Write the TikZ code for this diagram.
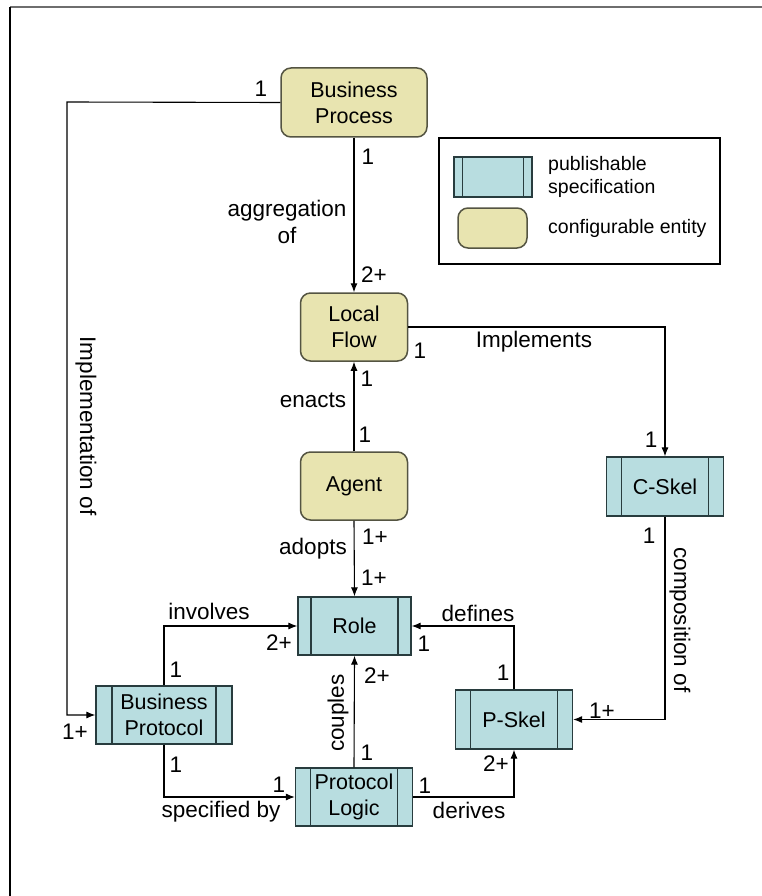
\documentclass[tikz,border=0pt]{standalone}
\usepackage{fontspec}
\setmainfont{Liberation Sans}
\usetikzlibrary{arrows.meta, positioning}
\definecolor{pubfill}{RGB}{184,221,224}
\definecolor{publine}{RGB}{40,60,62}
\definecolor{cfgfill}{RGB}{232,228,176}
\definecolor{cfgline}{RGB}{84,84,66}
\definecolor{framegray}{RGB}{110,110,110}

\begin{document}
\begin{tikzpicture}[x=1pt, y=-1pt,
                every node/.style={font=\fontsize{21.5}{26}\selectfont},
                cfg/.style={rectangle, rounded corners=10pt, draw=cfgline, fill=cfgfill, line width=1.5pt, align=center, inner sep=0pt},
                pub/.style={rectangle, draw=publine, fill=pubfill, line width=1.2pt, align=center, inner sep=0pt, minimum height=58pt,
                    path picture={\draw[publine, line width=1.2pt]
                        ([xshift=#1]path picture bounding box.north west) -- ([xshift=#1]path picture bounding box.south west)
                        ([xshift=-#1]path picture bounding box.north east) -- ([xshift=-#1]path picture bounding box.south east);}},
                pub/.default=14pt,
                lnk/.style={-{Latex[length=9pt,width=7pt]}, line width=1.1pt},
                lbl/.style={inner sep=1pt, font=\fontsize{22.5}{27}\selectfont},
                keytext/.style={anchor=west, align=left, inner sep=0pt, font=\fontsize{19.5}{23}\selectfont}
            ]
                \useasboundingbox (0,0) rectangle (762,896);
                % frame edges of the page
                \draw[framegray, line width=2pt] (10,7) -- (762,7);
                \draw[line width=2pt] (10,7) -- (10,896);

                % legend
                \node[draw, line width=1.2pt, minimum width=281pt, minimum height=126pt] (legend) at (579.5,201) {};
                \node[pub=8.5pt, minimum width=78pt, minimum height=40pt] (keypub) at (493,177) {};
                \node[cfg, minimum width=69pt, minimum height=40pt] (keycfg) at (492.5,228) {};
                \node[keytext] (keypubtxt) at (548,176.5) {publishable\\specification};
                \node[keytext] (keycfgtxt) at (548,228) {configurable entity};

                % entities
                \node[cfg, minimum width=146pt, minimum height=69pt] (bp) at (354,102.5) {Business\\Process};
                \node[cfg, minimum width=107pt, minimum height=68pt] (lf) at (354,327) {Local\\Flow};
                \node[cfg, minimum width=107pt, minimum height=68pt] (ag) at (354,486) {Agent};
                \node[pub=13pt, minimum width=113pt] (role) at (354.5,626) {Role};
                \node[pub=16pt, minimum width=136pt] (bprot) at (164,715) {Business\\Protocol};
                \node[pub=15pt, minimum width=117pt] (pl) at (354,797) {Protocol\\Logic};
                \node[pub=15pt, minimum width=117pt, minimum height=59pt] (ps) at (514,719.5) {P-Skel};
                \node[pub=15pt, minimum width=117pt, minimum height=59pt] (cs) at (665,486.5) {C-Skel};

                % connectors
                \coordinate (implturn) at (67,102);
                \draw[lnk] (bp.west) -- (implturn) |- (bprot.west);
                \draw[lnk] (bp.south) -- (lf.north);
                \draw[lnk] (lf.east) -| (cs.north);
                \draw[lnk] (ag.north) -- (lf.south);
                \draw[lnk] (ag.south) -- (role.north);
                \draw[lnk] (bprot.north) |- (role.west);
                \draw[lnk] (bprot.south) |- (pl.west);
                \draw[lnk] (pl.north) -- (role.south);
                \draw[lnk] (pl.east) -| (ps.south);
                \draw[lnk] (ps.north) |- (role.east);
                \draw[lnk] (cs.south) |- (ps.east);

                % relation names
                \node[lbl, align=center] (aggr) at (287,221.5) {aggregation\\of};
                \node[lbl] (impls) at (534,342) {Implements};
                \node[lbl] (enacts) at (313,400) {enacts};
                \node[lbl] (adopts) at (313,549) {adopts};
                \node[lbl, rotate=-90] (implof) at (86,426) {Implementation of};
                \node[lbl, rotate=-90] (compof) at (680,620) {composition of};
                \node[lbl] (involves) at (209,611) {involves};
                \node[lbl] (specby) at (221,812) {specified by};
                \node[lbl, rotate=90] (couples) at (338,713) {couples};
                \node[lbl] (derives) at (469,810) {derives};
                \node[lbl] (defines) at (478,613) {defines};

                % multiplicities
                \node[lbl] (mbpimpl) at (261,89) {1};
                \node[lbl] (mbpaggr) at (368,157) {1};
                \node[lbl] (mlfaggr) at (374,275) {2+};
                \node[lbl] (mlfimpl) at (420,351) {1};
                \node[lbl] (mcsimpl) at (651,440) {1};
                \node[lbl] (mlfenact) at (367,379) {1};
                \node[lbl] (magenact) at (365,435) {1};
                \node[lbl] (magadopt) at (375,537) {1+};
                \node[lbl] (mroleadopt) at (374,578) {1+};
                \node[lbl] (mcscomp) at (649,536) {1};
                \node[lbl] (mroleinv) at (279,643) {2+};
                \node[lbl] (mbprotinv) at (176,670) {1};
                \node[lbl] (mbprotimpl) at (75,732) {1+};
                \node[lbl] (mbprotspec) at (176,765) {1};
                \node[lbl] (mplspec) at (279,785) {1};
                \node[lbl] (mrolecpl) at (377,676) {2+};
                \node[lbl] (mplcpl) at (367,753) {1};
                \node[lbl] (mplder) at (425,786) {1};
                \node[lbl] (mpsder) at (496,764) {2+};
                \node[lbl] (mroledef) at (424,644) {1};
                \node[lbl] (mpsdef) at (503,673) {1};
                \node[lbl] (mpscomp) at (602,711) {1+};
            \end{tikzpicture}
\end{document}
